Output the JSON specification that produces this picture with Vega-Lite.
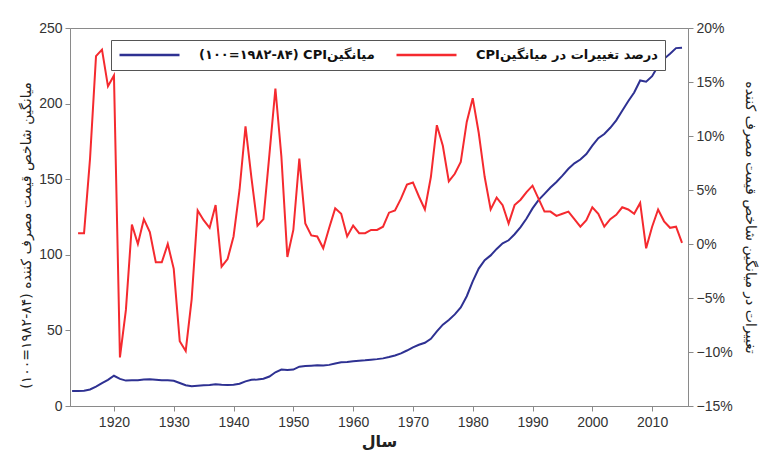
{
  "$schema": "https://vega.github.io/schema/vega-lite/v6.json",
  "width": 618,
  "height": 378,
  "autosize": {"type": "none"},
  "padding": {"left": 70, "top": 28, "right": 77, "bottom": 49},
  "background": "white",
  "config": {
    "view": {"stroke": "#8a8a8a", "strokeWidth": 1},
    "font": "Liberation Sans",
    "axis": {
      "grid": false,
      "domainColor": "#8a8a8a",
      "tickColor": "#8a8a8a",
      "tickSize": 5,
      "labelFont": "Liberation Sans",
      "labelFontSize": 14,
      "labelColor": "#333333",
      "titleFont": "DejaVu Sans",
      "titleColor": "#222222",
      "titleFontSize": 14,
      "titleFontWeight": "normal"
    }
  },
  "data": {
    "values": [
      {"year": 1913, "cpi": 9.9, "pct": null},
      {"year": 1914, "cpi": 10.0, "pct": 1.0},
      {"year": 1915, "cpi": 10.1, "pct": 1.0},
      {"year": 1916, "cpi": 10.9, "pct": 7.9},
      {"year": 1917, "cpi": 12.8, "pct": 17.4},
      {"year": 1918, "cpi": 15.1, "pct": 18.0},
      {"year": 1919, "cpi": 17.3, "pct": 14.6},
      {"year": 1920, "cpi": 20.0, "pct": 15.6},
      {"year": 1921, "cpi": 17.9, "pct": -10.5},
      {"year": 1922, "cpi": 16.8, "pct": -6.1},
      {"year": 1923, "cpi": 17.1, "pct": 1.8},
      {"year": 1924, "cpi": 17.1, "pct": 0.0},
      {"year": 1925, "cpi": 17.5, "pct": 2.3},
      {"year": 1926, "cpi": 17.7, "pct": 1.1},
      {"year": 1927, "cpi": 17.4, "pct": -1.7},
      {"year": 1928, "cpi": 17.1, "pct": -1.7},
      {"year": 1929, "cpi": 17.1, "pct": 0.0},
      {"year": 1930, "cpi": 16.7, "pct": -2.3},
      {"year": 1931, "cpi": 15.2, "pct": -9.0},
      {"year": 1932, "cpi": 13.7, "pct": -9.9},
      {"year": 1933, "cpi": 13.0, "pct": -5.1},
      {"year": 1934, "cpi": 13.4, "pct": 3.1},
      {"year": 1935, "cpi": 13.7, "pct": 2.2},
      {"year": 1936, "cpi": 13.9, "pct": 1.5},
      {"year": 1937, "cpi": 14.4, "pct": 3.6},
      {"year": 1938, "cpi": 14.1, "pct": -2.1},
      {"year": 1939, "cpi": 13.9, "pct": -1.4},
      {"year": 1940, "cpi": 14.0, "pct": 0.7},
      {"year": 1941, "cpi": 14.7, "pct": 5.0},
      {"year": 1942, "cpi": 16.3, "pct": 10.9},
      {"year": 1943, "cpi": 17.3, "pct": 6.1},
      {"year": 1944, "cpi": 17.6, "pct": 1.7},
      {"year": 1945, "cpi": 18.0, "pct": 2.3},
      {"year": 1946, "cpi": 19.5, "pct": 8.3},
      {"year": 1947, "cpi": 22.3, "pct": 14.4},
      {"year": 1948, "cpi": 24.1, "pct": 8.1},
      {"year": 1949, "cpi": 23.8, "pct": -1.2},
      {"year": 1950, "cpi": 24.1, "pct": 1.3},
      {"year": 1951, "cpi": 26.0, "pct": 7.9},
      {"year": 1952, "cpi": 26.5, "pct": 1.9},
      {"year": 1953, "cpi": 26.7, "pct": 0.8},
      {"year": 1954, "cpi": 26.9, "pct": 0.7},
      {"year": 1955, "cpi": 26.8, "pct": -0.4},
      {"year": 1956, "cpi": 27.2, "pct": 1.5},
      {"year": 1957, "cpi": 28.1, "pct": 3.3},
      {"year": 1958, "cpi": 28.9, "pct": 2.8},
      {"year": 1959, "cpi": 29.1, "pct": 0.7},
      {"year": 1960, "cpi": 29.6, "pct": 1.7},
      {"year": 1961, "cpi": 29.9, "pct": 1.0},
      {"year": 1962, "cpi": 30.2, "pct": 1.0},
      {"year": 1963, "cpi": 30.6, "pct": 1.3},
      {"year": 1964, "cpi": 31.0, "pct": 1.3},
      {"year": 1965, "cpi": 31.5, "pct": 1.6},
      {"year": 1966, "cpi": 32.4, "pct": 2.9},
      {"year": 1967, "cpi": 33.4, "pct": 3.1},
      {"year": 1968, "cpi": 34.8, "pct": 4.2},
      {"year": 1969, "cpi": 36.7, "pct": 5.5},
      {"year": 1970, "cpi": 38.8, "pct": 5.7},
      {"year": 1971, "cpi": 40.5, "pct": 4.4},
      {"year": 1972, "cpi": 41.8, "pct": 3.2},
      {"year": 1973, "cpi": 44.4, "pct": 6.2},
      {"year": 1974, "cpi": 49.3, "pct": 11.0},
      {"year": 1975, "cpi": 53.8, "pct": 9.1},
      {"year": 1976, "cpi": 56.9, "pct": 5.8},
      {"year": 1977, "cpi": 60.6, "pct": 6.5},
      {"year": 1978, "cpi": 65.2, "pct": 7.6},
      {"year": 1979, "cpi": 72.6, "pct": 11.3},
      {"year": 1980, "cpi": 82.4, "pct": 13.5},
      {"year": 1981, "cpi": 90.9, "pct": 10.3},
      {"year": 1982, "cpi": 96.5, "pct": 6.2},
      {"year": 1983, "cpi": 99.6, "pct": 3.2},
      {"year": 1984, "cpi": 103.9, "pct": 4.3},
      {"year": 1985, "cpi": 107.6, "pct": 3.6},
      {"year": 1986, "cpi": 109.6, "pct": 1.9},
      {"year": 1987, "cpi": 113.6, "pct": 3.6},
      {"year": 1988, "cpi": 118.3, "pct": 4.1},
      {"year": 1989, "cpi": 124.0, "pct": 4.8},
      {"year": 1990, "cpi": 130.7, "pct": 5.4},
      {"year": 1991, "cpi": 136.2, "pct": 4.2},
      {"year": 1992, "cpi": 140.3, "pct": 3.0},
      {"year": 1993, "cpi": 144.5, "pct": 3.0},
      {"year": 1994, "cpi": 148.2, "pct": 2.6},
      {"year": 1995, "cpi": 152.4, "pct": 2.8},
      {"year": 1996, "cpi": 156.9, "pct": 3.0},
      {"year": 1997, "cpi": 160.5, "pct": 2.3},
      {"year": 1998, "cpi": 163.0, "pct": 1.6},
      {"year": 1999, "cpi": 166.6, "pct": 2.2},
      {"year": 2000, "cpi": 172.2, "pct": 3.4},
      {"year": 2001, "cpi": 177.1, "pct": 2.8},
      {"year": 2002, "cpi": 179.9, "pct": 1.6},
      {"year": 2003, "cpi": 184.0, "pct": 2.3},
      {"year": 2004, "cpi": 188.9, "pct": 2.7},
      {"year": 2005, "cpi": 195.3, "pct": 3.4},
      {"year": 2006, "cpi": 201.6, "pct": 3.2},
      {"year": 2007, "cpi": 207.3, "pct": 2.8},
      {"year": 2008, "cpi": 215.3, "pct": 3.8},
      {"year": 2009, "cpi": 214.5, "pct": -0.4},
      {"year": 2010, "cpi": 218.1, "pct": 1.6},
      {"year": 2011, "cpi": 224.9, "pct": 3.2},
      {"year": 2012, "cpi": 229.6, "pct": 2.1},
      {"year": 2013, "cpi": 233.0, "pct": 1.5},
      {"year": 2014, "cpi": 236.7, "pct": 1.6},
      {"year": 2015, "cpi": 237.0, "pct": 0.1}
    ]
  },
  "encoding": {
    "x": {
      "field": "year",
      "type": "quantitative",
      "scale": {"domain": [1912.65, 2016], "nice": false, "zero": false},
      "axis": {
        "values": [1920, 1930, 1940, 1950, 1960, 1970, 1980, 1990, 2000, 2010],
        "format": "d",
        "labelPadding": 4,
        "title": "سال",
        "titleFontSize": 16,
        "titleFontWeight": "bold",
        "titlePadding": 4
      }
    }
  },
  "layer": [
    {
      "mark": {"type": "line", "strokeWidth": 2},
      "encoding": {
        "y": {
          "field": "cpi",
          "type": "quantitative",
          "scale": {"domain": [0, 250], "nice": false},
          "axis": {
            "values": [0, 50, 100, 150, 200, 250],
            "labelPadding": 3,
            "title": "(۱۰۰=۱۹۸۲-۸۴) میانگین شاخص قیمت مصرف کننده",
            "titlePadding": 5,
            "titleY": 207
          }
        },
        "color": {
          "datum": "(۱۰۰=۱۹۸۲-۸۴) CPIمیانگین",
          "type": "nominal",
          "scale": {
            "domain": ["(۱۰۰=۱۹۸۲-۸۴) CPIمیانگین", "CPIدرصد تغییرات در میانگین"],
            "range": ["#2e3192", "#f52a2f"]
          },
          "legend": {
            "title": null,
            "orient": "none",
            "direction": "horizontal",
            "legendX": 41,
            "legendY": 12,
            "symbolType": "stroke",
            "symbolSize": 3600,
            "symbolStrokeWidth": 2.5,
            "clipHeight": 16,
            "labelFont": "DejaVu Sans",
            "labelFontSize": 13,
            "labelFontWeight": "bold",
            "labelColor": "#111111",
            "labelOffset": 18,
            "columnPadding": 20,
            "padding": 7,
            "strokeColor": "#555555",
            "fillColor": "white",
            "labelLimit": 400
          }
        }
      }
    },
    {
      "mark": {"type": "line", "strokeWidth": 2},
      "encoding": {
        "y": {
          "field": "pct",
          "type": "quantitative",
          "scale": {"domain": [-15, 20], "nice": false, "zero": false},
          "axis": {
            "orient": "right",
            "values": [-15, -10, -5, 0, 5, 10, 15, 20],
            "labelExpr": "format(datum.value / 100, '.0%')",
            "labelPadding": 3,
            "title": "تغییرات در میانگین شاخص قیمت مصرف کننده",
            "titleAngle": 90,
            "titlePadding": 10
          }
        },
        "color": {"datum": "CPIدرصد تغییرات در میانگین", "type": "nominal"}
      }
    }
  ],
  "resolve": {"scale": {"y": "independent"}}
}
